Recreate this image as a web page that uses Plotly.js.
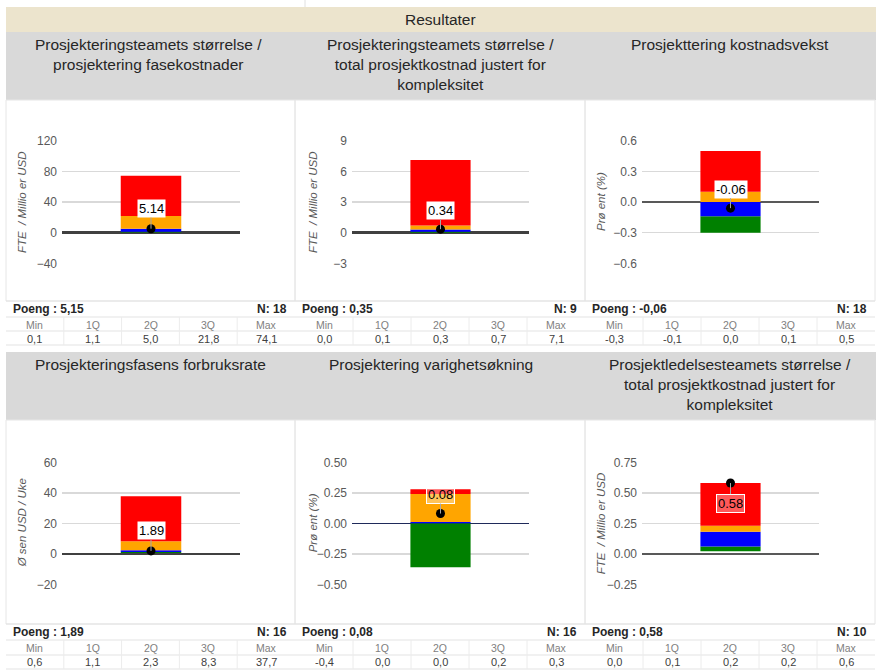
<!DOCTYPE html>
<html><head><meta charset="utf-8">
<script src="https://cdn.plot.ly/plotly-3.0.1.min.js"></script>
<style>html,body{margin:0;padding:0;background:#fff;}#chart{width:880px;height:672px;}</style>
</head><body><div id="chart"></div>
<script>
// ---------- data ----------
const pageTitle = 'Resultater';
const chartTitles = [
  'Prosjekteringsteamets størrelse /<br>prosjektering fasekostnader',
  'Prosjekteringsteamets størrelse /<br>total prosjektkostnad justert for<br>kompleksitet',
  'Prosjekttering kostnadsvekst',
  'Prosjekteringsfasens forbruksrate',
  'Prosjektering varighetsøkning',
  'Prosjektledelsesteamets størrelse /<br>total prosjektkostnad justert for<br>kompleksitet'
];
const axisTitles = ['FTE  / Millio er USD','FTE  / Millio er USD','Prø ent (%)','Ø sen USD / Uke','Prø ent (%)','FTE  / Millio er USD'];
const minVals  = [0.1, 0.0, -0.3, 0.6, -0.36, 0.02];
const q1Vals   = [1.1, 0.1, -0.14, 1.1, 0.0, 0.06];
const q2Vals   = [5.0, 0.3, 0.0, 2.3, 0.01, 0.18];
const q3Vals   = [21.8, 0.7, 0.1, 8.3, 0.24, 0.23];
const maxVals  = [74.1, 7.1, 0.5, 37.7, 0.28, 0.58];
const meanVals = [5.14, 0.34, -0.06, 1.89, 0.08, 0.58];
const poengLabels = ['5,15','0,35','-0,06','1,89','0,08','0,58'];
const nVals = [18, 9, 18, 16, 16, 10];
const statHeaders = ['Min','1Q','2Q','3Q','Max'];
const yRanges = [[-40,120],[-3,9],[-0.6,0.6],[-20,60],[-0.5,0.5],[-0.25,0.75]];
const yDticks = [40, 3, 0.3, 20, 0.25, 0.25];
const yFormats = ['d','d','.1f','d','.2f','.2f'];
const segColors = ['#008000','#0000ff','#ffa500','#ff0000'];

// ---------- layout helpers ----------
const W = 880, H = 672;
const X = p => p / W;
const Y = p => 1 - p / H;
const colEdges = [[6,295],[295,585],[585,875]];
const plotX = [[62,240],[352,529],[642,819]];
const plotY = [[140.7,263.3],[462.3,584.3]];
const headerY = [[32,100],[352,420]];
const cellY = [[100,301],[420,624]];
const tableLines = [[301,317,331,345],[624,640,655,669]];
const tableTextY = [[309,324.5,338.5],[632,648,662]];
const axisTitleX = [22,313,601];
const titleCenters = [148,440,730,150,431,730];
const labelAy = [-20,-19,-19,-20,-19,20];
const labelBg = ['#ffffff','#ffffff','#ffffff','#ffffff','rgba(255,255,255,0.35)','rgba(255,255,255,0.35)'];
const zeroW = [2.5,2.5,1.5,1.5,1.5,1.5];
const zeroC = ['#404040','#404040','#595959','#404040','#1f2a5a','#595959'];
const narrow = 'Liberation Sans Narrow, Liberation Sans, sans-serif';

const traces = [];
const shapes = [];
const annotations = [];
const layout = {
  width: W, height: H, margin:{l:0,r:0,t:0,b:0},
  paper_bgcolor:'#ffffff', plot_bgcolor:'rgba(0,0,0,0)',
  showlegend:false, barmode:'overlay',
  font:{family:'Liberation Sans, Arial, sans-serif', color:'#404040'}
};
const paperText = (px, py, text, font, extra) => Object.assign({
  xref:'paper', yref:'paper', x:X(px), y:Y(py), xanchor:'center', yanchor:'middle',
  text:text, showarrow:false, font:font}, extra || {});

// page bands
shapes.push({type:'line',xref:'paper',yref:'paper',x0:X(305),x1:X(305),y0:Y(0),y1:Y(7),line:{color:'#e0e0e0',width:1}});
shapes.push({type:'rect',xref:'paper',yref:'paper',x0:X(6),x1:X(876),y0:Y(7),y1:Y(32),fillcolor:'#ece4cd',line:{width:0},layer:'below'});
annotations.push(paperText(440, 19.5, pageTitle, {size:15.5,color:'#262626',family:narrow}));

const fmt = v => {
  let s = v.toFixed(1);
  if (s === '-0.0') s = '0.0';
  return s.replace('.', ',');
};

for (let i = 0; i < 6; i++) {
  const row = Math.floor(i/3), col = i % 3;
  const n = i + 1;
  const xa = 'xaxis' + (n === 1 ? '' : n), ya = 'yaxis' + (n === 1 ? '' : n);
  const xr = 'x' + (n === 1 ? '' : n), yr = 'y' + (n === 1 ? '' : n);
  const [cx0, cx1] = colEdges[col];

  // header band
  if (col === 0) {
    shapes.push({type:'rect',xref:'paper',yref:'paper',x0:X(6),x1:X(876),y0:Y(headerY[row][0]),y1:Y(headerY[row][1]),fillcolor:'#d9d9d9',line:{width:0},layer:'below'});
  }
  annotations.push(paperText(titleCenters[i], headerY[row][0]+2, chartTitles[i],
    {size:15.5,color:'#262626',family:narrow}, {yanchor:'top', align:'center'}));

  // chart cell border
  shapes.push({type:'rect',xref:'paper',yref:'paper',x0:X(cx0),x1:X(cx1),y0:Y(cellY[row][0]),y1:Y(cellY[row][1]),line:{color:'#e6e6e6',width:1},layer:'below'});

  // table
  const tl = tableLines[row];
  for (const ly of tl) {
    shapes.push({type:'line',xref:'paper',yref:'paper',x0:X(cx0),x1:X(cx1),y0:Y(ly),y1:Y(ly),line:{color:'#e3e3e3',width:1}});
  }
  const sw = (cx1 - cx0) / 5;
  for (let k = 1; k < 5; k++) {
    shapes.push({type:'line',xref:'paper',yref:'paper',x0:X(cx0+k*sw),x1:X(cx0+k*sw),y0:Y(tl[1]),y1:Y(tl[3]),line:{color:'#ececec',width:1}});
  }
  const ty = tableTextY[row];
  annotations.push(paperText(cx0+5, ty[0], '<b>Poeng : '+poengLabels[i]+'</b>', {size:12,color:'#262626',family:narrow}, {xanchor:'left'}));
  annotations.push(paperText(cx1-6, ty[0], '<b>N: '+nVals[i]+'</b>', {size:12,color:'#262626',family:narrow}, {xanchor:'right'}));
  const stats = [minVals[i], q1Vals[i], q2Vals[i], q3Vals[i], maxVals[i]];
  for (let k = 0; k < 5; k++) {
    annotations.push(paperText(cx0+(k+0.5)*sw, ty[1], statHeaders[k], {size:10.5,color:'#7f7f7f',family:narrow}));
    annotations.push(paperText(cx0+(k+0.5)*sw, ty[2], fmt(stats[k]), {size:11,color:'#404040',family:narrow}));
  }

  // axes
  layout[xa] = {domain:[X(plotX[col][0]),X(plotX[col][1])],range:[-0.5,0.5],showgrid:false,zeroline:false,showticklabels:false,showline:false,anchor:yr,fixedrange:true};
  layout[ya] = {domain:[Y(plotY[row][1]),Y(plotY[row][0])],range:yRanges[i],dtick:yDticks[i],tick0:0,tickformat:yFormats[i],
    showgrid:true,gridcolor:'#d9d9d9',gridwidth:1.5,zeroline:true,zerolinecolor:zeroC[i],zerolinewidth:zeroW[i],
    showline:false,ticks:'',ticklabelstandoff:4,tickfont:{size:12,color:'#595959'},anchor:xr,fixedrange:true};

  // axis title
  annotations.push(paperText(axisTitleX[col], (plotY[row][0]+plotY[row][1])/2, axisTitles[i],
    {size:11.5,color:'#595959',style:'italic'}, {textangle:-90}));

  // box segments
  const q = [minVals[i], q1Vals[i], q2Vals[i], q3Vals[i], maxVals[i]];
  for (let k = 0; k < 4; k++) {
    traces.push({type:'bar',x:[0],y:[q[k+1]-q[k]],base:[q[k]],width:0.34,xaxis:xr,yaxis:yr,
      marker:{color:segColors[k],line:{width:0}},hoverinfo:'skip'});
  }
  // mean point
  traces.push({type:'scatter',mode:'markers',x:[0],y:[meanVals[i]],xaxis:xr,yaxis:yr,marker:{color:'#000000',size:9},hoverinfo:'skip'});
  annotations.push({xref:xr,yref:yr,x:0,y:meanVals[i],text:meanVals[i].toFixed(2),showarrow:true,arrowhead:0,arrowwidth:1,
    arrowcolor:'#a6a6a6',ax:0,ay:labelAy[i],standoff:0,bgcolor:labelBg[i],bordercolor:i>=4?'#ffffff':'rgba(0,0,0,0)',borderpad:1,
    font:{size:13,color:'#000000'}});
}

layout.shapes = shapes;
layout.annotations = annotations;
Plotly.newPlot('chart', traces, layout, {staticPlot:true, displayModeBar:false});
</script>
</body></html>
